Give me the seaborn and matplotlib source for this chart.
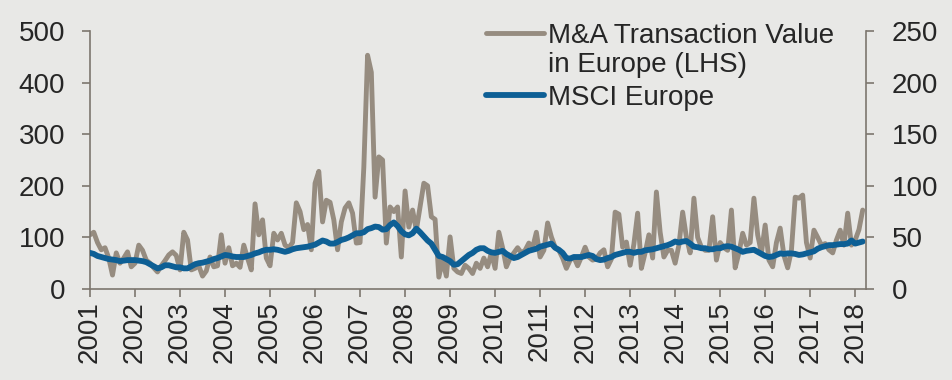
import numpy as np
import pandas as pd
import matplotlib
matplotlib.use("Agg")
import matplotlib.pyplot as plt
import seaborn as sns
from matplotlib.legend_handler import HandlerLine2D

# ---------------- data (monthly, Jan 2001 - Mar 2018) ----------------
ma_value = [  # M&A transaction value in Europe (LHS)
    105, 110, 90, 76, 80, 60, 27, 70, 50, 60, 72, 43,        # 2001
    50, 85, 75, 56, 50, 41, 33, 45, 55, 66, 72, 65,          # 2002
    37, 110, 95, 37, 40, 45, 25, 35, 62, 43, 45, 105,        # 2003
    50, 80, 45, 50, 42, 85, 60, 37, 165, 105, 134, 60,       # 2004
    45, 108, 95, 108, 85, 80, 90, 167, 150, 115, 125, 76,    # 2005
    205, 228, 130, 172, 168, 134, 76, 130, 157, 167, 147, 89,  # 2006
    90, 236, 453, 420, 178, 256, 250, 89, 159, 150, 159, 62,   # 2007
    190, 120, 153, 114, 160, 205, 200, 140, 135, 23, 56, 25,   # 2008
    101, 40, 33, 30, 46, 40, 30, 50, 40, 60, 43, 70,           # 2009
    40, 110, 80, 43, 60, 70, 80, 70, 75, 89, 80, 110,          # 2010
    62, 75, 128, 101, 81, 75, 60, 40, 56, 62, 45, 62,          # 2011
    81, 62, 56, 58, 70, 76, 43, 58, 149, 145, 81, 91,          # 2012
    46, 87, 147, 40, 70, 105, 60, 188, 110, 62, 75, 75,        # 2013
    50, 85, 149, 100, 70, 176, 100, 81, 75, 75, 140, 56,       # 2014
    90, 80, 75, 153, 41, 70, 108, 85, 90, 176, 105, 70,        # 2015
    124, 56, 43, 90, 118, 65, 41, 75, 178, 176, 182, 90,       # 2016
    60, 114, 100, 85, 88, 76, 70, 95, 114, 85, 147, 85,        # 2017
    95, 115, 153,                                              # 2018
]
msci_europe = [  # MSCI Europe (RHS)
    35, 34, 32, 31, 30, 29, 28.5, 28, 27, 27.5, 28, 28,
    28, 27.5, 27, 26, 24, 22, 20, 21, 23, 23, 22, 21,
    21, 20, 20, 22, 24, 25, 25.5, 26.5, 27.5, 29, 30, 31.5,
    33, 32.5, 31.5, 31, 31, 31, 32, 33, 34.5, 35.5, 37, 38,
    38, 38.5, 38, 37, 36, 37, 38.5, 39.5, 40, 40.5, 41, 42,
    43, 45, 47, 46, 44, 44, 45.5, 47.5, 48.5, 50, 52, 54,
    54, 55, 58, 59, 60.5, 60, 57.5, 58, 62, 64.5, 61, 56,
    53, 52, 54, 58.5, 55, 51, 47, 44, 38, 32, 31, 29,
    27, 23.5, 24, 27, 30, 33, 35, 38, 39.5, 39.5, 37, 35.5,
    35, 36, 37, 34, 32, 30, 31, 33, 35, 37, 38, 39,
    41, 42, 43, 44, 40, 38, 35, 30, 29.5, 31, 31, 31,
    32, 33, 32, 29, 28, 28.5, 30, 31, 33, 34, 35, 36,
    36, 35, 36, 36, 37.5, 38, 38.5, 39.5, 40.5, 41.5, 42.5, 44,
    46, 45, 46, 46.5, 44, 41, 40.5, 39.5, 39.5, 38.5, 38.5, 39.5,
    39.5, 41, 41.5, 41, 39.5, 38, 36, 37, 37.5, 38, 36, 34,
    32, 31, 31.5, 33, 34.5, 34, 34.5, 34.5, 34, 33, 33.5, 34.5,
    35.5, 36.5, 39, 40.5, 41.5, 42.5, 42.5, 43, 43.5, 43.5, 44, 47,
    44, 45, 46,
]
year_ticks = list(range(2001, 2019))
left_ticks = [0, 100, 200, 300, 400, 500]
right_ticks = [0, 50, 100, 150, 200, 250]
series_labels = ["M&A Transaction Value\nin Europe (LHS)", "MSCI Europe"]

# ---------------- frame ----------------
dates = pd.date_range("2001-01-01", periods=len(ma_value), freq="MS")
df = pd.DataFrame({
    "t": dates.year + (dates.month - 1) / 12.0,
    "ma": ma_value,
    "msci": msci_europe,
})

sns.set_theme(style="ticks")
plt.rcParams["font.family"] = ["Liberation Sans", "DejaVu Sans"]

BG = "#e8e8e6"
GRAY = "#968c80"
BLUE = "#0d5f95"
SPINE = "#7d766e"
TEXT = "#262626"
FS = 20

fig = plt.figure(figsize=(9.53, 3.8), dpi=100, facecolor=BG)
ax = fig.add_axes([90 / 953, 1 - 289 / 380, 776 / 953, 258 / 380])
ax.set_facecolor(BG)
ax2 = ax.twinx()
ax2.patch.set_visible(False)

sns.lineplot(data=df, x="t", y="ma", ax=ax, color=GRAY, linewidth=3.5,
             legend=False, solid_joinstyle="round", solid_capstyle="round")
sns.lineplot(data=df, x="t", y="msci", ax=ax2, color=BLUE, linewidth=4.2,
             legend=False, solid_joinstyle="round", solid_capstyle="round")

ax.set_xlim(2001, 2018.24)
ax.set_ylim(0, 500)
ax2.set_ylim(0, 250)
ax.set_xticks(year_ticks)
ax.set_xticklabels([str(y) for y in year_ticks], rotation=90)
ax.set_yticks(left_ticks)
ax2.set_yticks(right_ticks)
for a in (ax, ax2):
    a.set_xlabel("")
    a.set_ylabel("")
    a.grid(False)

for a in (ax, ax2):
    a.spines["top"].set_visible(False)
    for s in ("left", "right", "bottom"):
        a.spines[s].set_color(SPINE)
        a.spines[s].set_linewidth(1.2)
ax.spines["right"].set_visible(False)
ax2.spines["left"].set_visible(False)
ax2.spines["bottom"].set_visible(False)

ax.tick_params(axis="x", direction="out", length=6, width=1.2, color=SPINE,
               labelsize=FS, labelcolor=TEXT, pad=2.5)
ax.tick_params(axis="y", direction="out", length=6, width=1.2, color=SPINE,
               labelsize=FS, labelcolor=TEXT, pad=12)
ax2.tick_params(axis="y", direction="out", length=6, width=1.2, color=SPINE,
                labelsize=FS, labelcolor=TEXT, pad=12.5)

# legend: handle aligned with the first line of the two-line label
LINESP = 1.13


class FirstLineHandler(HandlerLine2D):
    def __init__(self, shift, **kw):
        super().__init__(**kw)
        self.shift = shift

    def create_artists(self, legend, orig_handle, xdescent, ydescent,
                       width, height, fontsize, trans):
        arts = super().create_artists(legend, orig_handle, xdescent, ydescent,
                                      width, height, fontsize, trans)
        for a in arts:
            a.set_ydata(np.asarray(a.get_ydata(), dtype=float) + self.shift)
        return arts


shift_pt = 0.5 * LINESP * 0.866 * FS + 3.4
handles = [ax.lines[0], ax2.lines[0]]
leg = ax2.legend(handles, series_labels, loc="upper left",
                 bbox_to_anchor=(0.510, 1.03), frameon=False,
                 borderpad=0, borderaxespad=0, handlelength=2.1,
                 handletextpad=0.15, labelspacing=0.24, fontsize=FS,
                 labelcolor=TEXT,
                 handler_map={ax.lines[0]: FirstLineHandler(shift_pt)})
for t in leg.get_texts():
    t.set_linespacing(LINESP)

fig.savefig("out.png", dpi=100, facecolor=BG)
